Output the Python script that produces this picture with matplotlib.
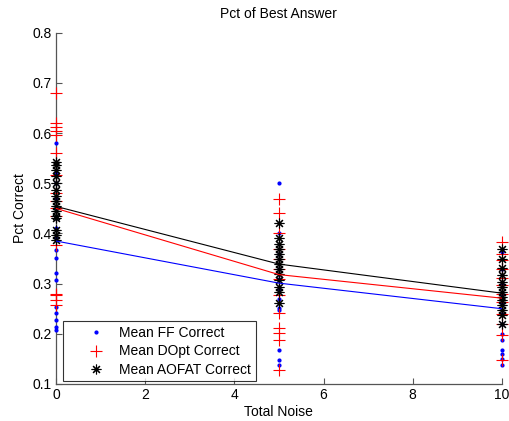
import matplotlib
matplotlib.use("Agg")
import matplotlib.pyplot as plt

plt.rcParams["font.family"] = ["Liberation Sans", "DejaVu Sans"]

NOISE = [0, 5, 10]

# individual run results, one list per noise level
FF_PTS = [
    [0.58, 0.52, 0.50, 0.47, 0.45, 0.43, 0.41, 0.39, 0.367, 0.351, 0.321, 0.307,
     0.254, 0.241, 0.227, 0.214, 0.207],
    [0.50, 0.40, 0.36, 0.33, 0.31, 0.29, 0.27, 0.251, 0.248, 0.168, 0.148, 0.138],
    [0.363, 0.33, 0.30, 0.28, 0.26, 0.24, 0.22, 0.20, 0.188, 0.168, 0.159, 0.150,
     0.138],
]
DOPT_PTS = [
    [0.68, 0.621, 0.613, 0.605, 0.597, 0.56, 0.517, 0.48, 0.464, 0.45, 0.434,
     0.377, 0.28, 0.277, 0.267, 0.257],
    [0.468, 0.440, 0.400, 0.37, 0.35, 0.33, 0.31, 0.278, 0.241, 0.211, 0.201,
     0.188, 0.128],
    [0.383, 0.359, 0.347, 0.329, 0.311, 0.298, 0.279, 0.264, 0.239, 0.219, 0.197,
     0.147],
]
AOFAT_PTS = [
    [0.543, 0.537, 0.527, 0.514, 0.50, 0.487, 0.474, 0.464, 0.454, 0.444, 0.434,
     0.43, 0.407, 0.397, 0.387],
    [0.420, 0.390, 0.38, 0.37, 0.36, 0.35, 0.34, 0.33, 0.32, 0.307, 0.294,
     0.284, 0.261],
    [0.369, 0.349, 0.331, 0.317, 0.304, 0.294, 0.284, 0.274, 0.267, 0.257, 0.247,
     0.237, 0.220],
]

# mean lines
FF_MEAN = [0.385, 0.301, 0.250]
DOPT_MEAN = [0.450, 0.318, 0.271]
AOFAT_MEAN = [0.454, 0.339, 0.281]


def flat(pts):
    xs, ys = [], []
    for x, vals in zip(NOISE, pts):
        xs += [x] * len(vals)
        ys += vals
    return xs, ys


fig = plt.figure(figsize=(5.09, 4.21), dpi=100)
ax = fig.add_axes([0.110, 0.088, 0.876, 0.834])

asterisk = (8, 2, 0)
x, y = flat(FF_PTS)
ax.plot(x, y, ".", color="#0000ff", ms=4, clip_on=False, zorder=3,
        label="Mean FF Correct")
x, y = flat(DOPT_PTS)
ax.plot(x, y, "+", color="#ff0000", ms=9, mew=0.8, clip_on=False, zorder=3,
        label="Mean DOpt Correct")
x, y = flat(AOFAT_PTS)
ax.plot(x, y, ls="none", marker=asterisk, color="black", ms=7, mew=0.8,
        clip_on=False, zorder=3, label="Mean AOFAT Correct")

ax.plot(NOISE, FF_MEAN, "-", color="#0000ff", lw=0.8, zorder=3)
ax.plot(NOISE, DOPT_MEAN, "-", color="#ff0000", lw=0.8, zorder=3)
ax.plot(NOISE, AOFAT_MEAN, "-", color="black", lw=0.8, zorder=3)

ax.set_xlim(0, 10)
ax.set_ylim(0.1, 0.8)
ax.set_xticks([0, 2, 4, 6, 8, 10])
ax.set_yticks([0.1, 0.2, 0.3, 0.4, 0.5, 0.6, 0.7, 0.8])
ax.set_yticklabels(["0.1", "0.2", "0.3", "0.4", "0.5", "0.6", "0.7", "0.8"])
for s in ["top", "right"]:
    ax.spines[s].set_visible(False)
for s in ["left", "bottom"]:
    ax.spines[s].set_color("#555555")
    ax.spines[s].set_linewidth(0.9)
ax.tick_params(direction="in", length=4, width=0.8, color="#555555",
               labelsize=10, pad=3)

ax.set_xlabel("Total Noise", fontsize=10, labelpad=2)
ax.set_ylabel("Pct Correct", fontsize=10, labelpad=4)
ax.set_title("Pct of Best Answer", fontsize=10, pad=11)

leg = ax.legend(loc="lower left", bbox_to_anchor=(0.016, 0.007), fontsize=10,
                frameon=True, fancybox=False, borderpad=0.35, labelspacing=0.3,
                handletextpad=-0.3, handlelength=4.0, borderaxespad=0)
leg.get_frame().set_edgecolor("black")
leg.get_frame().set_linewidth(0.8)
leg.set_zorder(5)

fig.savefig("out.png", dpi=100)
